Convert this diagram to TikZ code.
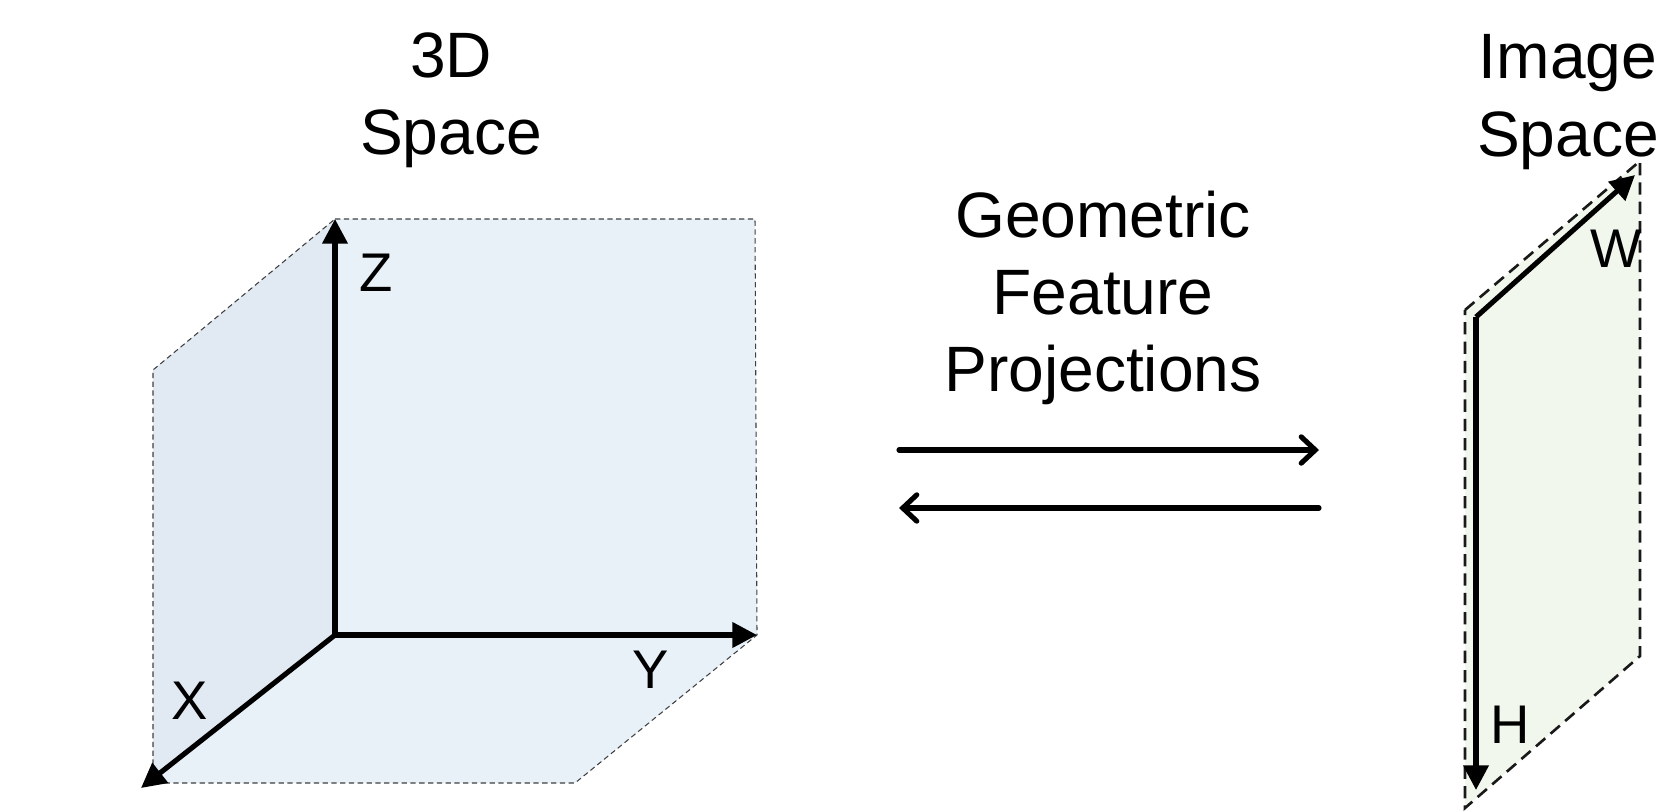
\documentclass[tikz,border=0pt]{standalone}
\usepackage{fontspec}
\setmainfont{Liberation Sans}
\usetikzlibrary{arrows.meta}
\definecolor{wallblue}{RGB}{232,240,248}
\definecolor{sideblue}{RGB}{225,233,242}
\definecolor{planegreen}{RGB}{241,247,236}
\tikzset{
  axis/.style={line width=2.9pt, -{Triangle[length=14pt,width=14pt]}},
  flow/.style={line width=2.9pt, line cap=round, -{Straight Barb[length=8pt,width=15pt,line cap=round]}},
  guide/.style={densely dashed, line width=0.6pt, black!75},
  planeedge/.style={dash pattern=on 7pt off 4pt, line width=1.5pt, black!90},
  title/.style={align=center, font=\fontsize{36.5}{44}\selectfont},
  axlabel/.style={font=\fontsize{31}{36}\selectfont},
}

\begin{document}
\begin{tikzpicture}[x=0.02cm, y=-0.02cm]
	\useasboundingbox (0,0) rectangle (1659,811);
	% Corners of the 3D space:
	\coordinate (o) at (335,635);
	\coordinate (zt) at (335,219);
	\coordinate (yt) at (757,635);
	\coordinate (xt) at (141,788);
	\coordinate (bk) at (755,219);
	\coordinate (lt) at (153,370);
	\coordinate (lb) at (153,783);
	\coordinate (fb) at (575,783);
	% Walls and floor:
	\fill[sideblue] (o) -- (zt) -- (lt) -- (lb) -- cycle;
	\fill[wallblue] (o) -- (zt) -- (bk) -- (yt) -- cycle;
	\fill[wallblue] (o) -- (yt) -- (fb) -- (lb) -- cycle;
	\draw[guide] (zt) -- (bk) -- (yt) -- (fb) -- (lb) -- (lt) -- cycle;
	% Axes:
	\draw[axis] (o) -- (zt);
	\draw[axis] (o) -- (yt);
	\draw[axis] (o) -- (xt);
	\node[axlabel] (zlab) at (376,273) {Z};
	\node[axlabel] (ylab) at (651,670) {Y};
	\node[axlabel] (xlab) at (190,701) {X};
	\node[title] (space3d) at (451,100) {3D\\Space};

	% Projections:
	\node[title] (proj) at (1103,298) {Geometric\\Feature\\Projections};
	\coordinate (fl) at (899,450);
	\coordinate (fr) at (1319,450);
	\coordinate (bl) at (899,508);
	\coordinate (br) at (1319,508);
	\draw[flow] (fl) -- (fr);
	\draw[flow] (br) -- (bl);

	% Image plane:
	\coordinate (p) at (1476,317);
	\coordinate (wt) at (1635,175);
	\coordinate (ht) at (1476,790);
	\coordinate (ptl) at (1465,310);
	\coordinate (ptr) at (1640,161);
	\coordinate (pbr) at (1640,656);
	\coordinate (pbl) at (1465,808);
	\fill[planegreen] (ptl) -- (ptr) -- (pbr) -- (pbl) -- cycle;
	\draw[planeedge] (ptl) -- (ptr) -- (pbr) -- (pbl) -- cycle;
	\draw[axis] (p) -- (wt);
	\draw[axis] (p) -- (ht);
	\node[axlabel] (wlab) at (1616,249) {W};
	\node[axlabel] (hlab) at (1510,725) {H};
	\node[title] (imspace) at (1568,102) {Image\\Space};
\end{tikzpicture}
\end{document}
